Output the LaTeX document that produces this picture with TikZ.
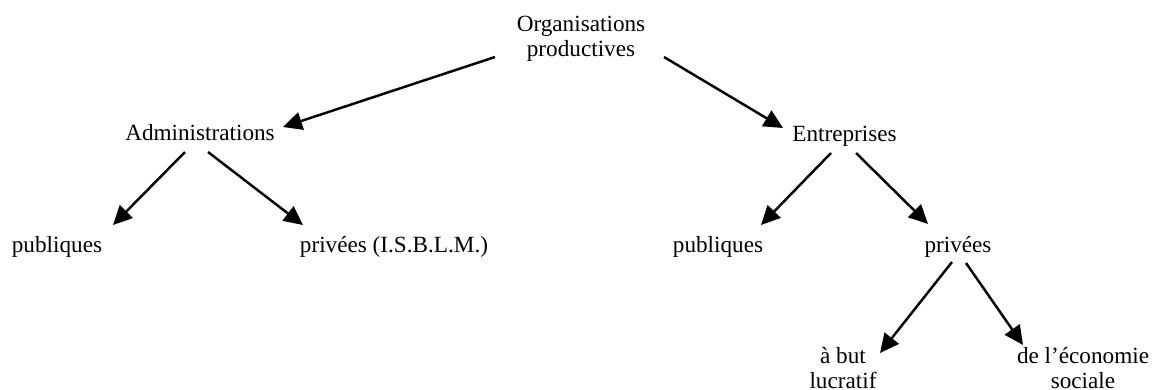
\documentclass[tikz,border=0pt]{standalone}
\usepackage{fontspec}
\setmainfont{Liberation Serif}
\usetikzlibrary{positioning,arrows.meta}

\begin{document}
\begin{tikzpicture}[font=\fontsize{13.2}{14.5}\selectfont]
\tikzset{fleche/.style={-{Triangle[length=0.38cm,width=0.36cm]},line width=1.4pt}}
\tikzset{boite/.style={inner sep=0pt,align=center}}
% Cadre
\useasboundingbox (0,0) rectangle (23.04,-7.78);
% Nodos
\node [boite] (org) at (11.62,-0.78) {Organisations\\productives};
\node [boite] (adm) at (4.00,-2.66) {Administrations};
\node [boite] (ent) at (16.89,-2.72) {Entreprises};
\node [boite] (pubA) at (1.14,-4.94) {publiques};
\node [boite] (privA) at (7.88,-4.94) {privées (I.S.B.L.M.)};
\node [boite] (pubE) at (14.36,-4.94) {publiques};
\node [boite] (privE) at (19.16,-4.94) {privées};
\node [boite] (lucr) at (16.86,-7.36) {à but\\lucratif};
\node [boite] (eco) at (21.66,-7.36) {de l’économie\\sociale};
% Flechas
\draw [fleche] ([shift={(-1.72,-0.36)}]org.center) -- ([shift={(1.66,0.12)}]adm.center);
\draw [fleche] ([shift={(1.66,-0.36)}]org.center) -- ([shift={(-1.23,0.16)}]ent.center);
\draw [fleche] ([shift={(-0.30,-0.38)}]adm.center) -- ([shift={(1.12,0.44)}]pubA.center);
\draw [fleche] ([shift={(0.16,-0.38)}]adm.center) -- ([shift={(-1.82,0.44)}]privA.center);
\draw [fleche] ([shift={(-0.27,-0.34)}]ent.center) -- ([shift={(0.86,0.44)}]pubE.center);
\draw [fleche] ([shift={(0.23,-0.34)}]ent.center) -- ([shift={(-0.60,0.46)}]privE.center);
\draw [fleche] ([shift={(-0.12,-0.30)}]privE.center) -- ([shift={(0.74,0.30)}]lucr.center);
\draw [fleche] ([shift={(0.16,-0.32)}]privE.center) -- ([shift={(-1.20,0.46)}]eco.center);
\end{tikzpicture}
\end{document}
